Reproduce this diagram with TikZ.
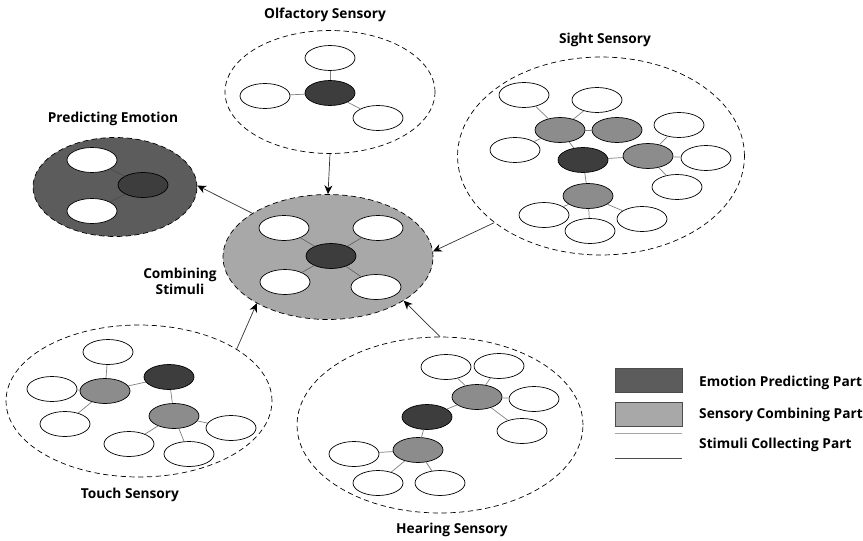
\documentclass[tikz,border=0pt]{standalone}
\usepackage{fontspec}
\setmainfont{Open Sans}
\usetikzlibrary{shapes.geometric, arrows.meta}

\begin{document}
\begin{tikzpicture}[
    x=0.02cm, y=-0.02cm,
    every node/.append style={font=\bfseries\fontsize{7.8}{9.2}\selectfont},
    % node styles
    leaf/.style={draw, thin, ellipse, fill=white, minimum width=1cm, minimum height=0.5cm, inner sep=0pt},
    core/.style={leaf, fill=black!76},
    hub/.style={leaf, fill=black!45},
    region/.style={draw, thin, densely dashed, ellipse, inner sep=0pt},
    link/.style={thin, gray},
    arrow/.style={->, >={Stealth[length=5pt, width=4.5pt, black]}, thin, gray!40!black},
    keybox/.style={draw=black!70, thin, minimum width=1.34cm, minimum height=0.48cm, inner sep=0pt},
]
\useasboundingbox (0,0) rectangle (863,541);

% ========== Olfactory ==========
\node[region, minimum width=4.2cm, minimum height=2.46cm] (olf) at (330,92) {};
\node (olftitle) at (325,15) {Olfactory Sensory};
\node[core] (olfc) at (330,93) {};
\node[leaf] (olf1) at (330,58) {};
\node[leaf] (olf2) at (265,96) {};
\node[leaf] (olf3) at (378,118) {};
\foreach \n in {olf1,olf2,olf3} \draw[link] (olfc) -- (\n);

% ========== Sight ==========
\node[region, minimum width=5.74cm, minimum height=3.96cm] (sight) at (601,156) {};
\node (sighttitle) at (605,40) {Sight Sensory};
\node[core] (sightc) at (583,160) {};
\node[hub] (sighta) at (560,130) {};
\node[hub] (sightb) at (617,130) {};
\node[hub] (sightd) at (648,156) {};
\node[hub] (sighte) at (588,196) {};
\node[leaf] (sa1) at (524,95) {};
\node[leaf] (sa2) at (597,100) {};
\node[leaf] (sa3) at (515,150) {};
\node[leaf] (sd1) at (679,125) {};
\node[leaf] (sd2) at (706,158) {};
\node[leaf] (sd3) at (677,187) {};
\node[leaf] (se1) at (544,215) {};
\node[leaf] (se2) at (590,231) {};
\node[leaf] (se3) at (642,219) {};
\foreach \n in {sighta,sightd,sighte} \draw[link] (sightc) -- (\n);
\draw[link] (sighta) -- (sightb);
\foreach \n in {sa1,sa2,sa3} \draw[link] (sighta) -- (\n);
\foreach \n in {sd1,sd2,sd3} \draw[link] (sightd) -- (\n);
\foreach \n in {se1,se2,se3} \draw[link] (sighte) -- (\n);

% ========== Predicting ==========
\node[region, fill=black!64, minimum width=3.28cm, minimum height=1.98cm] (pred) at (115,187) {};
\node (predtitle) at (113,119) {Predicting Emotion};
\node[core] (predc) at (143,185) {};
\node[leaf] (pred1) at (92,160) {};
\node[leaf] (pred2) at (92,211) {};
\foreach \n in {pred1,pred2} \draw[link, black!70] (predc) -- (\n);

% ========== Combining ==========
\node[region, fill=black!34, minimum width=4.2cm, minimum height=2.5cm] (comb) at (328,257) {};
\node[align=center] (combtitle) at (180,281) {Combining\\Stimuli};
\node[core] (combc) at (331,256) {};
\node[leaf] (comb1) at (284,228) {};
\node[leaf] (comb2) at (378,228) {};
\node[leaf] (comb3) at (285,282) {};
\node[leaf] (comb4) at (376,287) {};
\foreach \n in {comb1,comb2,comb3,comb4} \draw[link, black!60] (combc) -- (\n);

% ========== Touch ==========
\node[region, minimum width=5.32cm, minimum height=3.04cm] (touch) at (139,401) {};
\node (touchtitle) at (130,495) {Touch Sensory};
\node[core] (touchc) at (169,377) {};
\node[hub] (toucha) at (105,391) {};
\node[hub] (touchb) at (174,416) {};
\node[leaf] (ta1) at (108,352) {};
\node[leaf] (ta2) at (52,389) {};
\node[leaf] (ta3) at (65,424) {};
\node[leaf] (tb1) at (129,444) {};
\node[leaf] (tb2) at (189,454) {};
\node[leaf] (tb3) at (231,428) {};
\foreach \n in {toucha,touchb} \draw[link] (touchc) -- (\n);
\foreach \n in {ta1,ta2,ta3} \draw[link] (toucha) -- (\n);
\foreach \n in {tb1,tb2,tb3} \draw[link] (touchb) -- (\n);

% ========== Hearing ==========
\node[region, minimum width=5.72cm, minimum height=3.52cm] (hear) at (440,425) {};
\node (heartitle) at (452,530) {Hearing Sensory};
\node[core] (hearc) at (427,417) {};
\node[hub] (heara) at (477,397) {};
\node[hub] (hearb) at (418,450) {};
\node[leaf] (ha1) at (446,367) {};
\node[leaf] (ha2) at (499,366) {};
\node[leaf] (ha3) at (534,399) {};
\node[leaf] (ha4) at (522,431) {};
\node[leaf] (hb1) at (354,454) {};
\node[leaf] (hb2) at (378,483) {};
\node[leaf] (hb3) at (440,483) {};
\foreach \n in {heara,hearb} \draw[link] (hearc) -- (\n);
\foreach \n in {ha1,ha2,ha3,ha4} \draw[link] (heara) -- (\n);
\foreach \n in {hb1,hb2,hb3} \draw[link] (hearb) -- (\n);

% ========== Stimuli flow ==========
\draw[arrow] (olf.south) -- (comb.north);
\draw[arrow] (sight.212) -- (comb.3);
\draw[arrow] (touch.28) -- (comb.213);
\draw[arrow] (hear.north) -- (comb.330);
\draw[arrow] (comb.150) -- (pred.1);

% ========== Legend ==========
\node[keybox, fill=black!64] (keyemo) at (648.5,380) {};
\node[keybox, fill=black!34] (keycomb) at (648.5,414.5) {};
\node[minimum width=1.34cm, minimum height=0.48cm, inner sep=0pt] (keycoll) at (648.5,446) {};
\draw[thin, gray!70] (keycoll.north west) -- (keycoll.north east);
\draw[thin, black!70] (keycoll.south west) -- (keycoll.south east);
\node[anchor=west] (txtemo) at (693,383) {Emotion Predicting Part};
\node[anchor=west] (txtcomb) at (693,415) {Sensory Combining Part};
\node[anchor=west] (txtcoll) at (693,445) {Stimuli Collecting Part};

\end{tikzpicture}
\end{document}
